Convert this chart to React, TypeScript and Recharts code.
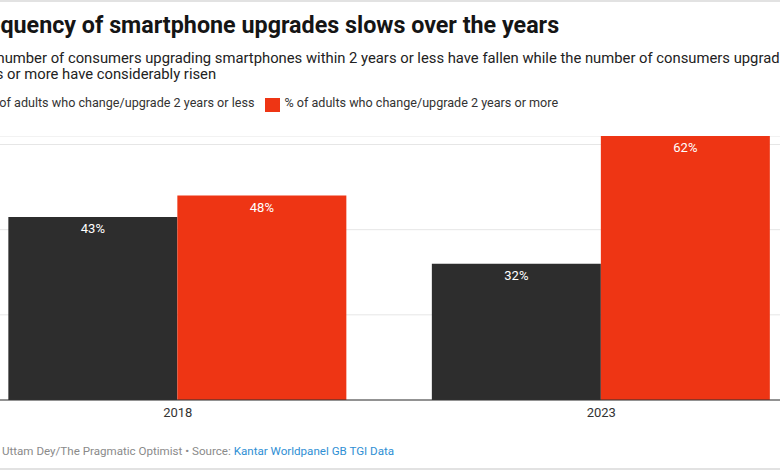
import React from 'react';
import { BarChart, Bar, XAxis, YAxis, CartesianGrid, LabelList } from 'recharts';

const years = ['2018', '2023'];
const upToTwoYears = [43, 32];
const twoYearsOrMore = [48, 62];
const seriesNames = [
  '% of adults who change/upgrade 2 years or less',
  '% of adults who change/upgrade 2 years or more',
];
const seriesColors = ['#2d2d2d', '#ee3514'];
const yTicks = [0, 20, 40, 60];

const data = years.map((year, i) => ({
  year,
  less: upToTwoYears[i],
  more: twoYearsOrMore[i],
}));

const font = 'Roboto, sans-serif';
const LEFT = -33;

const App: React.FC = () => {
  return (
    <div
      style={{
        position: 'absolute',
        top: 0,
        left: 0,
        width: 780,
        height: 470,
        overflow: 'hidden',
        background: '#fff',
        fontFamily: font,
      }}
    >
      <div style={{ position: 'absolute', top: 0, left: 0, width: 780, height: 2, background: '#e2e2e2' }} />
      <div style={{ position: 'absolute', top: 468, left: 0, width: 780, height: 2, background: '#e2e2e2' }} />

      <div
        style={{
          position: 'absolute', left: LEFT, top: 14, whiteSpace: 'nowrap',
          fontSize: 23.3, lineHeight: '23px', fontWeight: 700, color: '#151515',
        }}
      >
        Frequency of smartphone upgrades slows over the years
      </div>

      <div
        style={{
          position: 'absolute', left: LEFT + 1, top: 50, whiteSpace: 'nowrap',
          fontSize: 14.8, lineHeight: '16px', color: '#222',
        }}
      >
        <div>The number of consumers upgrading smartphones within 2 years or less have fallen while the number of consumers upgrading within 2</div>
        <div>years or more have considerably risen</div>
      </div>

      <div
        style={{
          position: 'absolute', left: LEFT + 1, top: 96, whiteSpace: 'nowrap',
          display: 'flex', alignItems: 'center', fontSize: 12.6, lineHeight: '14px', color: '#333',
        }}
      >
        {seriesNames.map((name, i) => (
          <div key={name} style={{ display: 'flex', alignItems: 'center', marginRight: 11 }}>
            <span
              style={{
                display: 'inline-block', width: 15, height: 14, background: seriesColors[i],
                marginRight: 4, position: 'relative', top: 2,
              }}
            />
            <span>{name}</span>
          </div>
        ))}
      </div>

      <div style={{ position: 'absolute', left: LEFT - 1, top: 136 }}>
        <BarChart
          width={847}
          height={294}
          data={data}
          margin={{ top: 0, right: 0, bottom: 0, left: 0 }}
          barCategoryGap="10%"
          barGap={0}
        >
          <CartesianGrid vertical={false} stroke="#e6e6e6" />
          <YAxis hide domain={[0, 62]} ticks={yTicks} />
          <XAxis
            dataKey="year"
            height={30}
            axisLine={{ stroke: '#333' }}
            tickLine={false}
            tick={{ fill: '#333', fontSize: 13, fontFamily: font }}
          />
          <Bar dataKey="less" fill={seriesColors[0]} isAnimationActive={false}>
            <LabelList
              dataKey="less"
              position="insideTop"
              offset={7}
              formatter={(v: number) => `${v}%`}
              style={{ fill: '#fff', fontSize: 13, fontFamily: font }}
            />
          </Bar>
          <Bar dataKey="more" fill={seriesColors[1]} isAnimationActive={false}>
            <LabelList
              dataKey="more"
              position="insideTop"
              offset={7}
              formatter={(v: number) => `${v}%`}
              style={{ fill: '#fff', fontSize: 13, fontFamily: font }}
            />
          </Bar>
        </BarChart>
      </div>

      <div
        style={{
          position: 'absolute', left: LEFT + 1, top: 444, whiteSpace: 'nowrap',
          fontSize: 11.6, lineHeight: '14px', color: '#8a8a8a',
        }}
      >
        Chart: Uttam Dey/The Pragmatic Optimist • Source:{' '}
        <span style={{ color: '#2f8fd4' }}>Kantar Worldpanel GB TGI Data</span>
      </div>
    </div>
  );
};

export default App;
